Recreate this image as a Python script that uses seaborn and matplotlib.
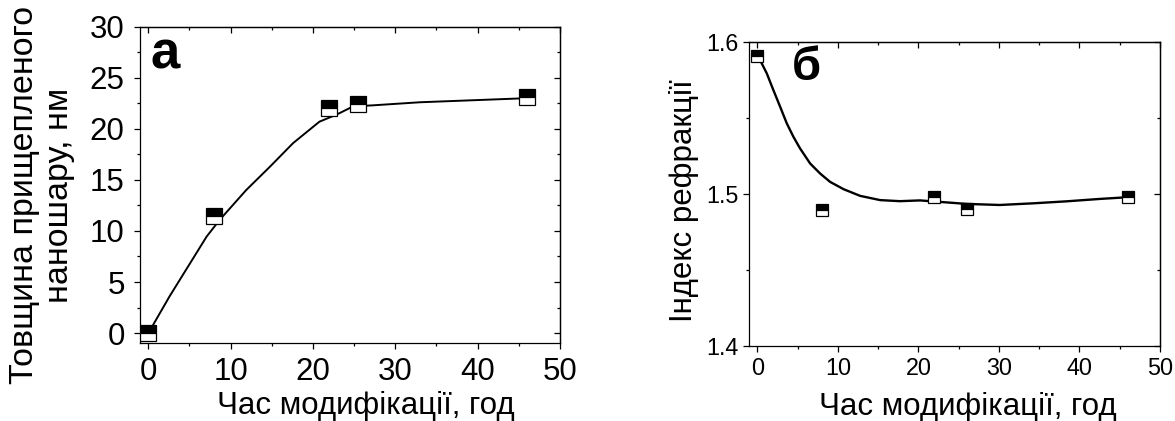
import numpy as np
import pandas as pd
import matplotlib
matplotlib.use("Agg")
import matplotlib.pyplot as plt
import seaborn as sns
from matplotlib.ticker import MultipleLocator

# дані
time_a = [0, 8, 22, 25.5, 46]
thick_a = [0.0, 11.5, 22.05, 22.4, 23.07]
fit_a_x = [0, 0.6, 2.6, 5.1, 7.1, 8.7, 11.9, 14.8, 17.6, 20.8, 22.9, 24.9, 27.3, 33, 46]
fit_a_y = [0.0, 0.8, 3.6, 6.85, 9.45, 11.1, 14.0, 16.3, 18.6, 20.7, 21.4, 22.2, 22.3, 22.6, 23.0]

time_b = [0, 8, 22, 26, 46]
index_b = [1.5907, 1.4895, 1.4979, 1.490, 1.4981]
fit_b_x = [0, 0.33, 1.17, 1.99, 2.82, 3.65, 4.47, 5.3, 6.55, 7.79, 9.03, 10.7, 12.76,
           15.25, 17.7, 20.2, 26, 30.1, 34.3, 38.4, 42.6, 46]
fit_b_y = [1.590, 1.588, 1.5792, 1.5682, 1.5574, 1.5464, 1.5376, 1.5299, 1.520, 1.5134,
           1.5079, 1.5031, 1.4987, 1.4959, 1.4952, 1.4957, 1.4934, 1.4927, 1.4938, 1.4951,
           1.4967, 1.4978]

xlabel = "Час модифікації, год"
ylabel_a = "Товщина прищепленого\nнаношару, нм"
ylabel_b = "Індекс рефракції"

sns.set_theme(style="ticks")
plt.rcParams['font.family'] = ['Liberation Sans Narrow', 'Liberation Sans', 'DejaVu Sans']
plt.rcParams['axes.linewidth'] = 0.9
plt.rcParams['text.color'] = 'black'
plt.rcParams['axes.labelcolor'] = 'black'
plt.rcParams['xtick.color'] = 'black'
plt.rcParams['ytick.color'] = 'black'
plt.rcParams['axes.edgecolor'] = 'black'

fig = plt.figure(figsize=(11.75, 4.21), dpi=100)
ax1 = fig.add_axes([0.1191, 0.1846, 0.3574, 0.7520])
ax2 = fig.add_axes([0.6377, 0.1781, 0.3495, 0.7228])

marker_kw = dict(marker='s', linestyle='', fillstyle='top', markerfacecolor='black',
                 markerfacecoloralt='white', markeredgecolor='black', color='black')


def style_axis(ax, xlim, ylim, xmaj, ymaj, tick_size, maj_len, xpad, ypad):
    ax.set_xlim(*xlim)
    ax.set_ylim(*ylim)
    ax.xaxis.set_major_locator(MultipleLocator(xmaj))
    ax.xaxis.set_minor_locator(MultipleLocator(xmaj / 2))
    ax.yaxis.set_major_locator(MultipleLocator(ymaj))
    ax.yaxis.set_minor_locator(MultipleLocator(ymaj / 2))
    ax.tick_params(which='major', direction='out', length=maj_len, width=0.9,
                   labelsize=tick_size, colors='black')
    ax.tick_params(axis='x', which='major', pad=xpad)
    ax.tick_params(axis='y', which='major', pad=ypad)
    ax.tick_params(which='minor', direction='out', length=maj_len * 0.55, width=0.9)
    for sp in ax.spines.values():
        sp.set_visible(True)
        sp.set_color('black')
    # дзеркальні штрихи всередину зверху і справа
    top = ax.secondary_xaxis('top')
    top.xaxis.set_major_locator(MultipleLocator(xmaj))
    top.xaxis.set_minor_locator(MultipleLocator(xmaj / 2))
    top.tick_params(which='major', direction='in', length=maj_len, width=0.9, labeltop=False)
    top.tick_params(which='minor', direction='in', length=maj_len * 0.55, width=0.9)
    right = ax.secondary_yaxis('right')
    right.yaxis.set_major_locator(MultipleLocator(ymaj))
    right.yaxis.set_minor_locator(MultipleLocator(ymaj / 2))
    right.tick_params(which='major', direction='in', length=maj_len, width=0.9, labelright=False)
    right.tick_params(which='minor', direction='in', length=maj_len * 0.55, width=0.9)


# панель а
sns.lineplot(x=fit_a_x, y=fit_a_y, ax=ax1, color='black', linewidth=1.4, zorder=2)
sns.lineplot(x=time_a, y=thick_a, ax=ax1, markersize=11.5, markeredgewidth=0.9,
             zorder=3, **marker_kw)
style_axis(ax1, (-1, 50), (-1, 30), 10, 5, 22.5, 4, 6, 7)
ax1.set_xlabel(xlabel, fontsize=22.5)
ax1.set_ylabel(ylabel_a, fontsize=24.5, family=['Liberation Sans', 'DejaVu Sans'],
               linespacing=1.2)
ax1.xaxis.label.set_va('center')
ax1.yaxis.label.set_va('center')
ax1.xaxis.set_label_coords(0.537, -0.197)
ax1.yaxis.set_label_coords(-0.233, 0.468)
ax1.text(0.025, 0.869, "а", transform=ax1.transAxes, fontsize=38, fontweight='bold',
         family=['Liberation Sans', 'DejaVu Sans'], va='baseline', ha='left')

# панель б
sns.lineplot(x=fit_b_x, y=fit_b_y, ax=ax2, color='black', linewidth=1.7, zorder=2)
sns.lineplot(x=time_b, y=index_b, ax=ax2, markersize=8.5, markeredgewidth=0.9,
             zorder=3, **marker_kw)
style_axis(ax2, (-1, 50), (1.4, 1.6), 10, 0.1, 16.8, 4, 4, 4)
ax2.set_xlabel(xlabel, fontsize=22.5)
ax2.set_ylabel(ylabel_b, fontsize=22.5, family=['Liberation Sans', 'DejaVu Sans'])
ax2.xaxis.label.set_va('center')
ax2.yaxis.label.set_va('center')
ax2.xaxis.set_label_coords(0.532, -0.2)
ax2.yaxis.set_label_coords(-0.159, 0.477)
ax2.text(0.103, 0.874, "б", transform=ax2.transAxes, fontsize=34, fontweight='bold',
         family=['Liberation Sans', 'DejaVu Sans'], va='baseline', ha='left')

fig.savefig("out.png", dpi=100, facecolor='white')
